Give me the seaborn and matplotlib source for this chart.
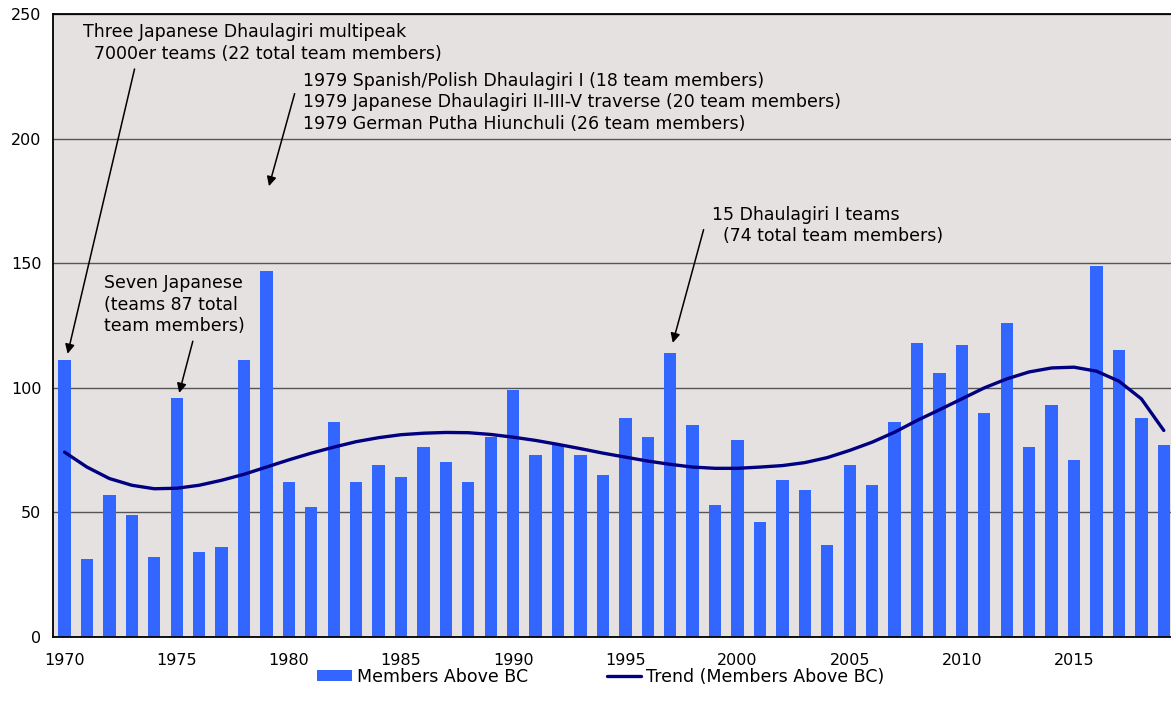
import matplotlib
matplotlib.use("Agg")
import matplotlib.pyplot as plt
import seaborn as sns
import numpy as np
import pandas as pd
from matplotlib.patches import Patch
from matplotlib.lines import Line2D

# data
years = list(range(1970, 2020))
members = [111, 31, 57, 49, 32, 96, 34, 36, 111, 147,
           62, 52, 86, 62, 69, 64, 76, 70, 62, 80,
           99, 73, 77, 73, 65, 88, 80, 114, 85, 53,
           79, 46, 63, 59, 37, 69, 61, 86, 118, 106,
           117, 90, 126, 76, 93, 71, 149, 115, 88, 77]
trend = [74.1, 68.1, 63.5, 60.8, 59.4, 59.6, 60.8, 62.8, 65.2, 68.1,
         71.0, 73.7, 76.1, 78.3, 79.9, 81.1, 81.7, 82.0, 81.9, 81.2,
         80.1, 78.8, 77.2, 75.5, 73.7, 72.1, 70.5, 69.2, 68.1, 67.6,
         67.6, 68.1, 68.7, 69.9, 71.9, 74.8, 78.1, 82.1, 86.8, 91.1,
         95.5, 99.9, 103.5, 106.3, 107.9, 108.2, 106.6, 102.6, 95.5, 82.8]

df = pd.DataFrame({"year": [str(y) for y in years], "members": members})

BAR = "#3366FF"
NAVY = "#000080"
BG = "#E6E1E1"

sns.set_style("white")
plt.rcParams["font.family"] = ["DejaVu Sans"]
plt.rcParams["text.color"] = "black"
plt.rcParams["xtick.color"] = "black"
plt.rcParams["ytick.color"] = "black"

fig = plt.figure(figsize=(11.71, 7.17), dpi=100)
ax = fig.add_axes([53.3 / 1171, 80.3 / 717, (1175 - 53.3) / 1171, (636.7 - 14) / 717])
ax.set_facecolor(BG)

sns.barplot(data=df, x="year", y="members", color=BAR, width=0.55,
            saturation=1, linewidth=0, ax=ax, zorder=2)
sns.lineplot(x=np.arange(len(years)), y=trend, color=NAVY, linewidth=2.4,
             ax=ax, zorder=3)

ax.set_xlim(-0.5, len(years) - 0.5)
ax.set_ylim(0, 250)
ax.set_yticks([0, 50, 100, 150, 200, 250])
ax.yaxis.grid(True, color="#555555", linewidth=1, zorder=1)
ax.set_axisbelow(True)

major = [i for i, y in enumerate(years) if y % 5 == 0]
ax.set_xticks(major)
ax.set_xticklabels([str(years[i]) for i in major])
ax.set_xticks(np.arange(-0.5, len(years), 1), minor=True)
ax.tick_params(axis="x", which="major", length=0, pad=12, labelsize=11.5)
ax.tick_params(axis="x", which="minor", length=4, width=1.2, direction="out")
ax.tick_params(axis="y", length=5, width=1.2, direction="out", labelsize=11.5)
ax.set_xlabel("")
ax.set_ylabel("")

for side in ["left", "bottom", "top"]:
    ax.spines[side].set_visible(True)
    ax.spines[side].set_color("black")
    ax.spines[side].set_linewidth(1.3)
ax.spines["right"].set_visible(False)

fs = 12.5
ls = 1.25
arrow = dict(arrowstyle="-|>", color="black", lw=1.1, mutation_scale=14)

ax.text(0.83, 238.3, "Three Japanese Dhaulagiri multipeak\n  7000er teams (22 total team members)",
        fontsize=fs, va="center", ha="left", linespacing=ls)
ax.annotate("", xy=(0.11, 112.5), xytext=(3.15, 229.0), arrowprops=arrow)

ax.text(10.64, 214.6, "1979 Spanish/Polish Dhaulagiri I (18 team members)\n"
        "1979 Japanese Dhaulagiri II-III-V traverse (20 team members)\n"
        "1979 German Putha Hiunchuli (26 team members)",
        fontsize=fs, va="center", ha="left", linespacing=ls)
ax.annotate("", xy=(9.08, 179.8), xytext=(10.29, 219.1), arrowprops=arrow)

ax.text(28.87, 165.1, "15 Dhaulagiri I teams\n  (74 total team members)",
        fontsize=fs, va="center", ha="left", linespacing=ls)
ax.annotate("", xy=(27.08, 116.9), xytext=(28.52, 164.5), arrowprops=arrow)

ax.text(1.77, 133.3, "Seven Japanese\n(teams 87 total\nteam members)",
        fontsize=fs, va="center", ha="left", linespacing=ls)
ax.annotate("", xy=(5.08, 96.8), xytext=(5.75, 119.7), arrowprops=arrow)

handles = [Patch(facecolor=BAR, edgecolor="none", label="Members Above BC"),
           Line2D([0], [0], color=NAVY, linewidth=2.4, label="Trend (Members Above BC)")]
fig.legend(handles=handles, loc="center", bbox_to_anchor=(601 / 1171, 40 / 717),
           ncol=2, frameon=False, fontsize=fs, handlelength=2.0, handleheight=0.6,
           handletextpad=0.3, columnspacing=4.5)

fig.savefig("out.png", dpi=100)
